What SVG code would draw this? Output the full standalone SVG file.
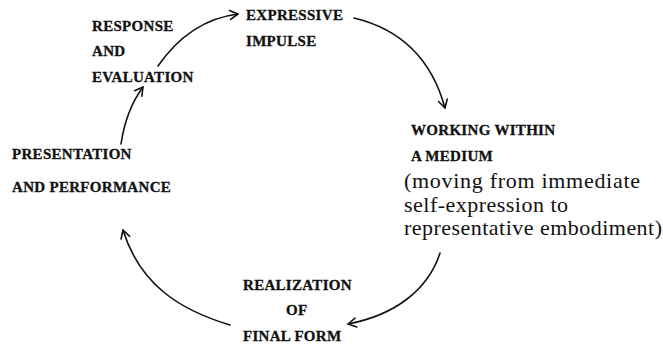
<svg xmlns="http://www.w3.org/2000/svg" width="663" height="345" viewBox="0 0 663 345">
<style>
.lbl{font-family:"Liberation Serif","Times New Roman",serif;font-weight:bold;font-size:15px;letter-spacing:0.3px;fill:#111;stroke:#111;stroke-width:0.3}
.body{font-family:"Liberation Serif","Times New Roman",serif;font-size:22px;fill:#111}
.arc{fill:none;stroke:#111;stroke-width:1.6;stroke-linecap:round}
</style>
<defs>
<marker id="ah" viewBox="-10 -6 12 12" refX="0" refY="0" markerWidth="12" markerHeight="12" markerUnits="userSpaceOnUse" orient="auto">
<path d="M-8,-4.5 L0,0 L-8,4.5" fill="none" stroke="#111" stroke-width="1.6" stroke-linecap="round" stroke-linejoin="round"/>
</marker>
</defs>
<rect width="663" height="345" fill="#fff"/>
<g id="connectors">
<path class="arc" d="M158,66 Q190,20 238,14" marker-end="url(#ah)"/>
<path class="arc" d="M354,18 Q425,35 445,108" marker-end="url(#ah)"/>
<path class="arc" d="M440,253 C428,290 395,315 348,324" marker-end="url(#ah)"/>
<path class="arc" d="M230,325 C180,310 140,285 123,230" marker-end="url(#ah)"/>
<path class="arc" d="M121,144 Q126,110 143,87" marker-end="url(#ah)"/>
</g>
<g id="response">
<text class="lbl" x="92" y="31">RESPONSE</text>
<text class="lbl" x="92" y="56">AND</text>
<text class="lbl" x="92" y="82">EVALUATION</text>
</g>
<g id="expressive">
<text class="lbl" x="246" y="20">EXPRESSIVE</text>
<text class="lbl" x="246" y="46">IMPULSE</text>
</g>
<g id="working">
<text class="lbl" x="411" y="135">WORKING WITHIN</text>
<text class="lbl" x="411" y="161">A MEDIUM</text>
<text class="body" x="404" y="188" textLength="236" lengthAdjust="spacing">(moving from immediate</text>
<text class="body" x="404" y="212" textLength="164" lengthAdjust="spacing">self-expression to</text>
<text class="body" x="404" y="235" textLength="258" lengthAdjust="spacing">representative embodiment)</text>
</g>
<g id="realization">
<text class="lbl" x="243" y="290">REALIZATION</text>
<text class="lbl" x="286" y="315">OF</text>
<text class="lbl" x="243" y="341">FINAL FORM</text>
</g>
<g id="presentation">
<text class="lbl" x="12" y="159">PRESENTATION</text>
<text class="lbl" x="12" y="192">AND PERFORMANCE</text>
</g>
</svg>
